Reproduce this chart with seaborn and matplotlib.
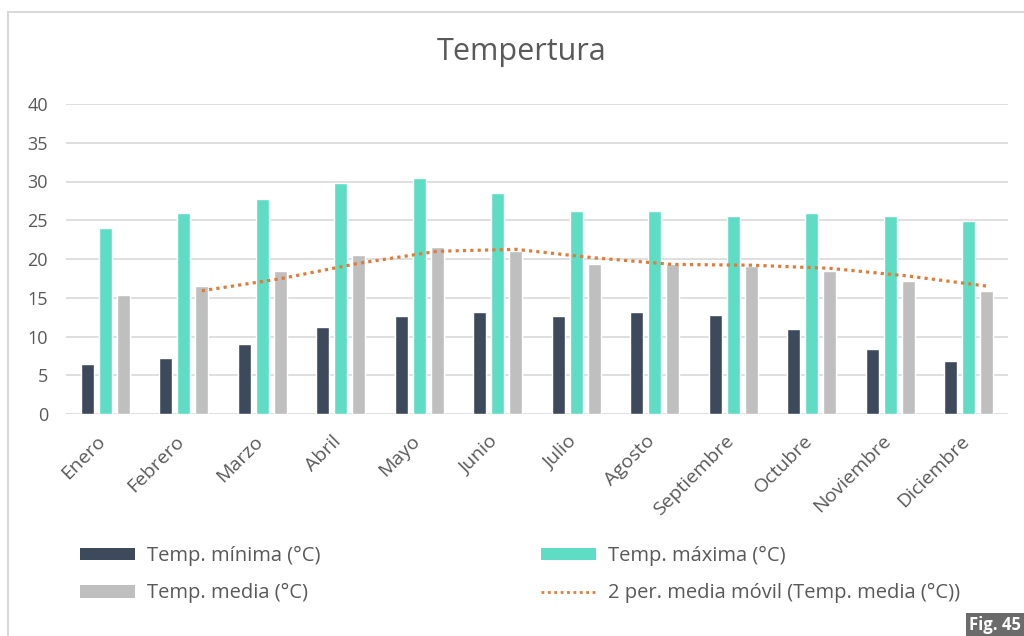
import numpy as np
import pandas as pd
import matplotlib
matplotlib.use("Agg")
import matplotlib.pyplot as plt
import matplotlib.transforms as mtransforms
import seaborn as sns
from matplotlib.patches import Rectangle, Patch
from matplotlib.lines import Line2D

# ---------------- data ----------------
months = ["Enero", "Febrero", "Marzo", "Abril", "Mayo", "Junio", "Julio",
          "Agosto", "Septiembre", "Octubre", "Noviembre", "Diciembre"]
temp_min = [6.5, 7.2, 9.0, 11.2, 12.6, 13.2, 12.6, 13.1, 12.8, 11.0, 8.4, 6.8]
temp_max = [24.0, 25.9, 27.8, 29.8, 30.5, 28.5, 26.2, 26.2, 25.5, 25.9, 25.6, 24.9]
temp_media = [15.3, 16.5, 18.4, 20.5, 21.5, 21.0, 19.3, 19.3, 19.1, 18.5, 17.1, 15.9]
series_names = ["Temp. mínima (°C)", "Temp. máxima (°C)", "Temp. media (°C)"]
trend_label = "2 per. media móvil (Temp. media (°C))"
title_text = "Tempertura"
y_ticks = [0, 5, 10, 15, 20, 25, 30, 35, 40]
fig_label = "Fig. 45"

# ---------------- style ----------------
sns.set_theme(style="white")
plt.rcParams['font.family'] = ['Open Sans', 'DejaVu Sans']
TXT = "#595959"
palette = {series_names[0]: "#3D4A5C", series_names[1]: "#5EDDC4", series_names[2]: "#C0BFBF"}
trend_color = "#E07B39"

W, H = 1024, 636
fig = plt.figure(figsize=(W / 100, H / 100), dpi=100)
fig.patch.set_facecolor("white")
ax = fig.add_axes([66 / W, 1 - 414 / H, (1008 - 66) / W, (414 - 104) / H])

df = pd.DataFrame({
    "Mes": months * 3,
    "Temp": temp_min + temp_max + temp_media,
    "Serie": [series_names[0]] * 12 + [series_names[1]] * 12 + [series_names[2]] * 12,
})

group_width = 0.69
sns.barplot(data=df, x="Mes", y="Temp", hue="Serie", hue_order=series_names,
            order=months, palette=palette, width=group_width, gap=0.27, ax=ax,
            legend=False, saturation=1, zorder=3)

# 2-period moving average of the media series, drawn at the media bars
ma = pd.Series(temp_media).rolling(2).mean()
slot = group_width / 3
xpos = np.arange(len(months)) + slot
ax.plot(xpos, ma, color=trend_color, linewidth=2.3,
        linestyle=(0, (1, 1.3)), zorder=4)

ax.set_xlim(-0.5, len(months) - 0.5)
ax.set_ylim(0, 40)
ax.set_yticks(y_ticks)
ax.set_yticklabels([str(v) for v in y_ticks])
ax.set_xticks(range(len(months)))
ax.set_xticklabels(months, rotation=45, ha="right")
ax.set_xlabel("")
ax.set_ylabel("")
for s in ax.spines.values():
    s.set_visible(False)
ax.yaxis.grid(True, color="#D9D9D9", linewidth=1.2, zorder=0)
ax.set_axisbelow(True)
ax.tick_params(axis="y", length=0, labelsize=13, labelcolor=TXT, pad=13)
ax.tick_params(axis="x", length=0, labelsize=14, labelcolor=TXT, pad=13)
shift = mtransforms.ScaledTranslation(4 / 100, 0, fig.dpi_scale_trans)
for lbl in ax.get_xticklabels():
    lbl.set_transform(lbl.get_transform() + shift)

# title
fig.text(522 / W, 1 - 52 / H, title_text, ha="center", va="center",
         fontsize=22, color=TXT)

# legends (two columns)
h_min = Patch(facecolor=palette[series_names[0]], edgecolor="none")
h_max = Patch(facecolor=palette[series_names[1]], edgecolor="none")
h_med = Patch(facecolor=palette[series_names[2]], edgecolor="none")
h_tr = Line2D([0], [0], color=trend_color, linewidth=2.0, linestyle=(0, (1, 1.3)))
leg_kw = dict(frameon=False, fontsize=14.5, labelcolor=TXT, handlelength=2.75,
              handleheight=0.6, handletextpad=0.6, labelspacing=0.85,
              borderpad=0, borderaxespad=0, loc="upper left")
leg1 = fig.legend([h_min, h_med], [series_names[0], series_names[2]],
                  bbox_to_anchor=(80 / W, 1 - 546 / H), **leg_kw)
leg2 = fig.legend([h_max, h_tr], [series_names[1], trend_label],
                  bbox_to_anchor=(541 / W, 1 - 546 / H), **leg_kw)

# outer chart border
fig.add_artist(Rectangle((8 / W, -0.1), 1.2, 1.1 - 12 / H, transform=fig.transFigure,
                         fill=False, edgecolor="#D9D9D9", linewidth=1.5, clip_on=False))

# figure label
fig.add_artist(Rectangle((966 / W, 0), 0.1, 23 / H, transform=fig.transFigure,
                         facecolor="#6B6B6B", edgecolor="none", clip_on=False))
fig.text(969 / W, 11 / H, fig_label, ha="left", va="center", color="white",
         fontsize=12, fontweight="bold")

fig.savefig("out.png", dpi=100)
